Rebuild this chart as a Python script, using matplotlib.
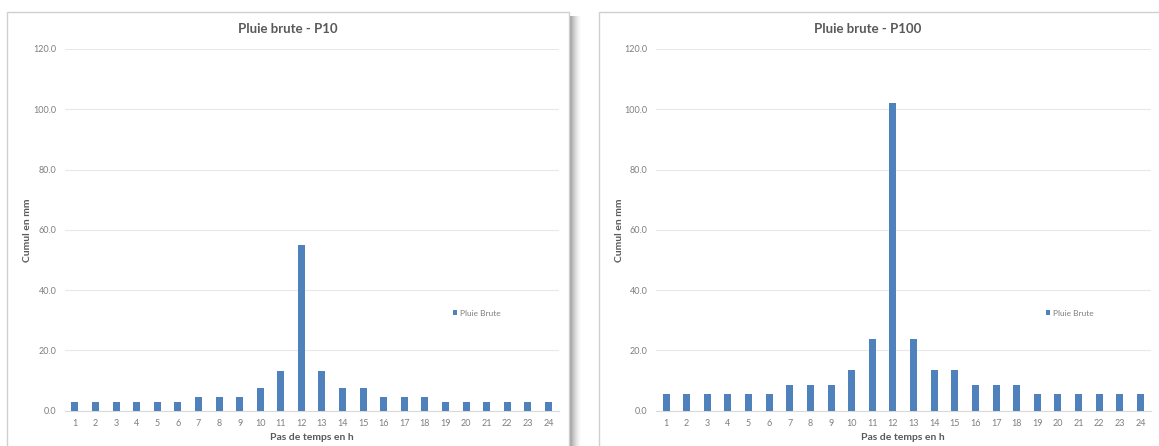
import matplotlib.pyplot as plt
from matplotlib.patches import Rectangle

# Data
heures = list(range(1, 25))
pluie_p10 = [2.9, 2.9, 2.9, 2.9, 2.9, 2.9, 4.6, 4.6, 4.6, 7.4, 13.1, 55.0,
             13.1, 7.4, 7.4, 4.6, 4.6, 4.6, 2.9, 2.9, 2.9, 2.9, 2.9, 2.9]
pluie_p100 = [5.4, 5.4, 5.4, 5.4, 5.4, 5.4, 8.6, 8.6, 8.6, 13.5, 23.7, 102.0,
              23.7, 13.5, 13.5, 8.6, 8.6, 8.6, 5.4, 5.4, 5.4, 5.4, 5.4, 5.4]
titres = ["Pluie brute - P10", "Pluie brute - P100"]
yticks = [0, 20, 40, 60, 80, 100, 120]

W, H = 1159, 446
plt.rcParams['font.family'] = ['Lato', 'DejaVu Sans']

fig = plt.figure(figsize=(W / 100, H / 100), dpi=100)
fig.patch.set_facecolor('white')


def box(x0, y0, x1, y1):
    # pixel box (top-left origin) -> figure coords
    return [x0 / W, 1 - y1 / H, (x1 - x0) / W, (y1 - y0) / H]


# shadow on the right of the left chart
for i in range(12):
    a = 0.55 * (1 - i / 12) ** 1.5
    fig.patches.append(Rectangle(((569 + i) / W, 0), 1 / W, 1 - 16 / H,
                                 transform=fig.transFigure, color='#404040',
                                 alpha=a, lw=0, zorder=-3))

# chart frames
for fx0, fx1 in [(7, 569), (599, 1170)]:
    fig.patches.append(Rectangle((fx0 / W, -0.05), (fx1 - fx0) / W, 1.05 - 12 / H,
                                 transform=fig.transFigure, facecolor='white',
                                 edgecolor='#d0d0d0', lw=1, zorder=-2))

panneaux = [
    (pluie_p10, (64.7, 558.7), 288, (457, 313), 7),
    (pluie_p100, (655.7, 1150.8), 868, (1050, 313), 599),
]

for (valeurs, (px0, px1), tx, (lx, ly), fx0), titre in zip(panneaux, titres):
    ax = fig.add_axes(box(px0, 49, px1, 410.6))
    ax.set_facecolor('none')
    ax.bar(heures, valeurs, width=0.34, color='#4f81bd', zorder=3, label='Pluie Brute')
    ax.set_xlim(0.5, 24.5)
    ax.set_ylim(0, 120)
    ax.set_yticks(yticks)
    ax.set_yticklabels([f"{v:.1f}" for v in yticks])
    ax.set_xticks(heures)
    ax.grid(axis='y', color='#e8e8e8', lw=0.8, zorder=0)
    for s in ['top', 'right', 'left']:
        ax.spines[s].set_visible(False)
    ax.spines['bottom'].set_color('#d9d9d9')
    ax.spines['bottom'].set_linewidth(0.8)
    ax.tick_params(axis='both', length=0, labelsize=6.5, labelcolor='#7f7f7f')
    ax.tick_params(axis='y', pad=6)
    ax.tick_params(axis='x', pad=6)
    ax.set_xlabel("Pas de temps en h", fontsize=7.5, fontweight='bold', color='#595959')
    ax.xaxis.set_label_coords(0.5, -(433.5 - 410.6) / (410.6 - 49))
    ax.set_ylabel("Cumul en mm", fontsize=7.5, fontweight='bold', color='#595959')
    ax.yaxis.set_label_coords((fx0 + 25 - px0) / (px1 - px0), 0.5)
    fig.text(tx / W, 1 - 29 / H, titre, ha='center', va='center', fontsize=9.5,
             fontweight='bold', color='#595959')
    leg = ax.legend(loc='center left', bbox_to_anchor=((lx - 4 - px0) / (px1 - px0), (410.6 - ly) / (410.6 - 49)),
                    frameon=False, fontsize=6, handlelength=0.5, handleheight=0.5,
                    handletextpad=0.4, borderpad=0, borderaxespad=0)
    for t in leg.get_texts():
        t.set_color('#7f7f7f')

fig.savefig("out.png", dpi=100)
